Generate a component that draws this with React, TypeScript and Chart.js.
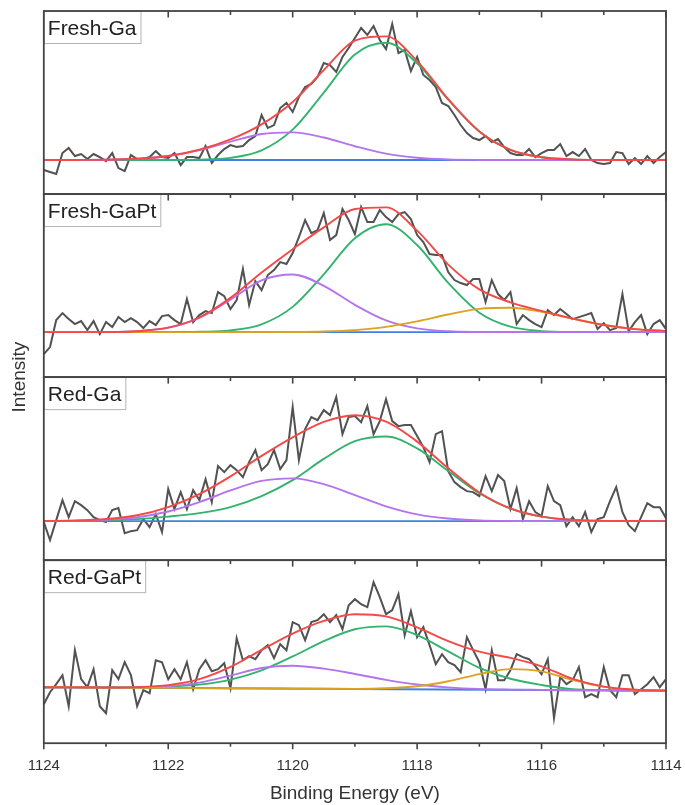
import React, { useEffect, useRef } from 'react';
import { Chart, registerables } from 'chart.js';

Chart.register(...registerables);

const FONT = "'Liberation Sans', Arial, 'DejaVu Sans', sans-serif";

// Binding energy grid of the measured spectra (eV)
const rawEnergy = [
  1124.0, 1123.9, 1123.8, 1123.7, 1123.6, 1123.5, 1123.4, 1123.3, 1123.2, 1123.1,
  1123.0, 1122.9, 1122.8, 1122.7, 1122.6, 1122.5, 1122.4, 1122.3, 1122.2, 1122.1,
  1122.0, 1121.9, 1121.8, 1121.7, 1121.6, 1121.5, 1121.4, 1121.3, 1121.2, 1121.1,
  1121.0, 1120.9, 1120.8, 1120.7, 1120.6, 1120.5, 1120.4, 1120.3, 1120.2, 1120.1,
  1120.0, 1119.9, 1119.8, 1119.7, 1119.6, 1119.5, 1119.4, 1119.3, 1119.2, 1119.1,
  1119.0, 1118.9, 1118.8, 1118.7, 1118.6, 1118.5, 1118.4, 1118.3, 1118.2, 1118.1,
  1118.0, 1117.9, 1117.8, 1117.7, 1117.6, 1117.5, 1117.4, 1117.3, 1117.2, 1117.1,
  1117.0, 1116.9, 1116.8, 1116.7, 1116.6, 1116.5, 1116.4, 1116.3, 1116.2, 1116.1,
  1116.0, 1115.9, 1115.8, 1115.7, 1115.6, 1115.5, 1115.4, 1115.3, 1115.2, 1115.1,
  1115.0, 1114.9, 1114.8, 1114.7, 1114.6, 1114.5, 1114.4, 1114.3, 1114.2, 1114.1,
  1114.0,
];

// Energy grid of the fitted curves (eV)
const fitEnergy = [
  1124, 1123.5, 1123, 1122.5, 1122, 1121.5, 1121, 1120.5, 1120, 1119.5, 1119,
  1118.5, 1118, 1117.5, 1117, 1116.5, 1116, 1115.5, 1115, 1114.5, 1114,
];
const baseEnergy = [1124, 1114];

// ---- Fresh-Ga ----
const rawFreshGa = [
  -10, -12, -14, 7, 12, 4, 6, 1, 6, 3,
  -1, 7, -8, -11, 5, 1, 1, 3, 9, 3,
  2, 7, -5, 3, 3, 2, 14, -3, 5, 11,
  15, 13, 14, 20, 24, 45, 32, 35, 52, 57,
  48, 63, 73, 76, 83, 97, 95, 88, 103, 112,
  122, 132, 125, 134, 120, 111, 136, 107, 110, 89,
  103, 85, 80, 73, 57, 54, 45, 35, 27, 22,
  20, 24, 18, 21, 13, 7, 5, 5, 11, 3,
  7, 10, 10, 16, 4, 8, 4, 11, 0, -3,
  -4, -3, 8, 7, -4, 2, -4, 4, -3, 3,
  8,
];
const envFreshGa = [0, 0.1, 0.3, 1.3, 4.0, 10.3, 20.6, 35.7, 58.1, 89.9, 119.4, 123.6, 98.9, 60.9, 28.6, 10.2, 2.8, 0.6, 0.1, 0, 0];
const greenFreshGa = [0, 0, 0, 0, 0, 0.4, 2.2, 9.7, 30.4, 67.4, 105.6, 117.2, 96.6, 60.3, 28.5, 10.2, 2.8, 0.6, 0.1, 0, 0];
const purpleFreshGa = [0, 0.1, 0.3, 1.3, 4.0, 9.9, 18.4, 26.0, 27.7, 22.5, 13.8, 6.4, 2.3, 0.6, 0.1, 0, 0, 0, 0, 0, 0];
const baseFreshGa = [0, 0];

// ---- Fresh-GaPt ----
const rawFreshGaPt = [
  -22, -15, 12, 19, 13, 8, 11, 2, 11, -2,
  10, 5, 15, 10, 14, 10, 4, 11, 7, 16,
  17, 12, 8, 33, 10, 17, 21, 19, 40, 36,
  23, 32, 63, 27, 51, 42, 57, 62, 70, 68,
  79, 95, 112, 99, 102, 119, 92, 97, 123, 112,
  98, 125, 110, 110, 122, 115, 110, 118, 120, 113,
  97, 90, 78, 77, 77, 60, 52, 49, 47, 53,
  53, 30, 52, 38, 32, 40, 8, 17, 12, 8,
  5, 22, 17, 23, 18, 13, 15, 17, 19, 3,
  9, 2, 4, 38, 1, 10, 17, -2, 8, 12,
  3,
];
const envFreshGaPt = [0, 0, 0.1, 0.9, 4.4, 14.6, 34.2, 59.5, 82.9, 104.7, 123.1, 124.7, 101.4, 67.5, 42.7, 29.7, 21.2, 13.5, 7.1, 3.0, 1.0];
const greenFreshGaPt = [0, 0, 0, 0, 0, 0.3, 1.7, 7.8, 25.2, 57.8, 93.9, 107.8, 87.0, 49.1, 19.4, 5.4, 1.0, 0.1, 0, 0, 0];
const purpleFreshGaPt = [0, 0, 0.1, 0.9, 4.4, 14.3, 32.5, 51.7, 57.6, 46.3, 27.2, 11.7, 3.7, 0.8, 0.1, 0, 0, 0, 0, 0, 0];
const orangeFreshGaPt = [0, 0, 0, 0, 0, 0, 0, 0, 0.1, 0.6, 2.0, 5.2, 10.7, 17.6, 23.2, 24.3, 20.2, 13.4, 7.1, 3.0, 1.0];
const baseFreshGaPt = [0, 0];

// ---- Red-Ga ----
const rawRedGa = [
  -1, -19, 1, 21, 4, 20, 16, 11, 4, 1,
  -1, 11, 13, -12, -10, -9, 2, -6, 7, -11,
  32, 12, 29, 12, 31, 21, 42, 19, 55, 49,
  56, 51, 44, 59, 71, 51, 57, 71, 52, 61,
  114, 61, 92, 104, 101, 111, 106, 124, 87, 104,
  105, 99, 115, 87, 100, 122, 100, 95, 96, 96,
  85, 74, 59, 87, 90, 50, 39, 34, 30, 29,
  25, 45, 30, 46, 40, 12, 33, 2, 20, 9,
  5, 35, 20, 16, -5, 4, -5, 9, -11, 2,
  4, 20, 34, 9, -4, -10, 4, 18, 14, 14,
  3,
];
const envRedGa = [0.2, 0.6, 2.1, 5.9, 14.1, 27.0, 44.7, 65.2, 83.8, 99.2, 105.9, 99.4, 79.5, 52.8, 28.7, 12.7, 4.5, 1.3, 0.3, 0.1, 0];
const greenRedGa = [0.1, 0.3, 0.8, 2.0, 4.5, 8.0, 14.0, 25.0, 41.0, 62.2, 79.9, 84.6, 72.7, 50.2, 27.9, 12.5, 4.5, 1.3, 0.3, 0.1, 0];
const purpleRedGa = [0.1, 0.3, 1.3, 3.9, 9.6, 19.0, 30.7, 40.2, 42.8, 37.0, 26.0, 14.8, 6.8, 2.6, 0.8, 0.2, 0, 0, 0, 0, 0];
const baseRedGa = [0, 0];

// ---- Red-GaPt ----
const rawRedGaPt = [
  -17, -5, 3, 12, -19, 37, 8, 0, 18, -19,
  -26, 17, 8, 25, 12, -19, -3, -6, 27, 25,
  8, 18, 8, 25, -2, 18, 27, 16, 18, 24,
  -1, 49, 27, 31, 28, 37, 42, 29, 43, 37,
  65, 62, 47, 65, 67, 73, 65, 72, 58, 82,
  88, 83, 80, 105, 90, 73, 77, 93, 52, 76,
  50, 60, 42, 23, 33, 25, 22, 15, 50, 37,
  25, -2, 37, 7, 7, 17, 33, 30, 28, 21,
  13, 28, -31, 10, 3, 7, 20, -10, -7, -10,
  20, -3, -10, 12, 12, -7, -2, 3, 10, 0,
  8,
];
const envRedGaPt = [0, -0.2, -0.3, 0.1, 2.1, 8.0, 20.2, 37.3, 53.6, 66.2, 72.9, 70.8, 59.9, 46.1, 35.5, 29.3, 20.9, 8.3, 0.6, -2.5, -3.4];
const greenRedGaPt = [0, -0.2, -0.3, -0.2, 0.5, 2.6, 7.6, 16.9, 30.7, 46.0, 57.9, 60.8, 52.1, 35.8, 19.3, 8.4, 2.2, -1.9, -2.9, -3.2, -3.5];
const purpleRedGaPt = [0, -0.2, -0.4, -0.2, 0.9, 4.5, 11.6, 19.2, 21.5, 18.6, 13.2, 7.3, 2.7, -0.2, -1.8, -2.4, -2.7, -3.0, -3.2, -3.3, -3.5];
const orangeRedGaPt = [0, -0.2, -0.4, -0.5, -0.7, -0.9, -1.1, -1.2, -1.4, -1.6, -1.7, -1.1, 0.9, 5.9, 13.1, 18.1, 15.8, 7.2, 0.3, -2.6, -3.4];
const baseRedGaPt = [0, -3.5];

const panelNames = ['Fresh-Ga', 'Fresh-GaPt', 'Red-Ga', 'Red-GaPt'];
const panelIds = ['y1', 'y2', 'y3', 'y4'];
const yMin = [-34, -45, -39, -56];
const yMax = [149, 138, 144, 127];

const C_RAW = '#525252';
const C_ENV = '#f54848';
const C_GREEN = '#33b36e';
const C_PURPLE = '#b574ec';
const C_ORANGE = '#dba322';
const C_BLUE = '#3f80e0';
const C_FRAME = '#444444';

const toPoints = (xs: number[], ys: number[]) => xs.map((x, i) => ({ x, y: ys[i] }));

const panelDecor = {
  id: 'panelDecor',
  afterDraw(chart: any) {
    const ctx = chart.ctx as CanvasRenderingContext2D;
    const xs = chart.scales.x;
    const { left, right, bottom } = chart.chartArea;
    const tickVals: number[] = xs.ticks.map((t: any) => Math.round(t.value));
    ctx.save();
    ctx.strokeStyle = C_FRAME;
    ctx.lineWidth = 1.6;
    // inward tick marks at the top of each panel
    panelIds.forEach((id) => {
      const ys = chart.scales[id];
      tickVals.forEach((v) => {
        const px = xs.getPixelForValue(v);
        const len = v % 2 === 0 ? 6.5 : 4;
        ctx.beginPath();
        ctx.moveTo(px, ys.top);
        ctx.lineTo(px, ys.top + len);
        ctx.stroke();
      });
    });
    // outward tick marks under the bottom axis
    tickVals.forEach((v) => {
      const px = xs.getPixelForValue(v);
      const len = v % 2 === 0 ? 6 : 3.5;
      ctx.beginPath();
      ctx.moveTo(px, bottom);
      ctx.lineTo(px, bottom + len);
      ctx.stroke();
    });
    // label boxes
    ctx.font = `21px ${FONT}`;
    panelIds.forEach((id, k) => {
      const ys = chart.scales[id];
      const w = ctx.measureText(panelNames[k]).width + 8;
      const h = 32;
      ctx.fillStyle = '#ffffff';
      ctx.fillRect(left, ys.top, w, h);
      ctx.strokeStyle = '#b4b4b4';
      ctx.lineWidth = 1;
      ctx.strokeRect(left + 0.5, ys.top + 0.5, w, h);
      ctx.fillStyle = '#222222';
      ctx.textBaseline = 'alphabetic';
      ctx.textAlign = 'left';
      ctx.fillText(panelNames[k], left + 4, ys.top + 23.5);
    });
    // panel frames
    ctx.strokeStyle = C_FRAME;
    ctx.lineWidth = 1.8;
    panelIds.forEach((id) => {
      const ys = chart.scales[id];
      ctx.strokeRect(left, ys.top, right - left, ys.bottom - ys.top);
    });
    ctx.restore();
  },
};

export default function App() {
  const ref = useRef<HTMLCanvasElement>(null);

  useEffect(() => {
    document.body.style.margin = '0';
    const canvas = ref.current;
    if (!canvas) return;

    const panels = [
      { raw: rawFreshGa, env: envFreshGa, green: greenFreshGa, purple: purpleFreshGa, orange: null, base: baseFreshGa },
      { raw: rawFreshGaPt, env: envFreshGaPt, green: greenFreshGaPt, purple: purpleFreshGaPt, orange: orangeFreshGaPt, base: baseFreshGaPt },
      { raw: rawRedGa, env: envRedGa, green: greenRedGa, purple: purpleRedGa, orange: null, base: baseRedGa },
      { raw: rawRedGaPt, env: envRedGaPt, green: greenRedGaPt, purple: purpleRedGaPt, orange: orangeRedGaPt, base: baseRedGaPt },
    ];

    const datasets: any[] = [];
    panels.forEach((p, k) => {
      const yAxisID = panelIds[k];
      const line = (label: string, xs: number[], ys: number[], color: string, width: number, smooth: boolean) => ({
        label: `${panelNames[k]} ${label}`,
        data: toPoints(xs, ys),
        xAxisID: 'x',
        yAxisID,
        borderColor: color,
        backgroundColor: color,
        borderWidth: width,
        pointRadius: 0,
        fill: false,
        tension: 0,
        cubicInterpolationMode: smooth ? 'monotone' : 'default',
      });
      datasets.push(line('envelope', fitEnergy, p.env, C_ENV, 1.9, true));
      if (p.orange) datasets.push(line('peak 3', fitEnergy, p.orange, C_ORANGE, 1.9, true));
      datasets.push(line('peak 2', fitEnergy, p.purple, C_PURPLE, 1.9, true));
      datasets.push(line('peak 1', fitEnergy, p.green, C_GREEN, 1.9, true));
      datasets.push(line('background', baseEnergy, p.base, C_BLUE, 1.9, false));
      datasets.push(line('raw', rawEnergy, p.raw, C_RAW, 2, false));
    });

    const scales: any = {
      x: {
        type: 'linear',
        position: 'bottom',
        min: 1114,
        max: 1124,
        reverse: true,
        ticks: {
          stepSize: 1,
          autoSkip: false,
          maxRotation: 0,
          padding: 0,
          color: '#333333',
          font: { family: FONT, size: 15 },
          callback: (v: any) => {
            const n = Math.round(Number(v));
            return n % 2 === 0 ? String(n) : '';
          },
        },
        grid: {
          display: true,
          drawOnChartArea: false,
          drawTicks: true,
          tickLength: 14,
          tickColor: 'rgba(0,0,0,0)',
        },
        border: { display: false },
        title: {
          display: true,
          text: 'Binding Energy (eV)',
          color: '#333333',
          font: { family: FONT, size: 19 },
          padding: { top: 7, bottom: 0 },
        },
      },
      yTitle: {
        type: 'linear',
        position: 'left',
        weight: 10,
        min: 0,
        max: 1,
        display: true,
        ticks: { display: false },
        grid: { display: false, drawTicks: false, tickLength: 0 },
        border: { display: false },
        title: {
          display: true,
          text: 'Intensity',
          color: '#333333',
          font: { family: FONT, size: 19 },
          padding: { top: 0, bottom: 13 },
        },
      },
    };
    panelIds.forEach((id, k) => {
      scales[id] = {
        type: 'linear',
        position: 'left',
        stack: 'panels',
        stackWeight: 1,
        weight: 4 - k,
        min: yMin[k],
        max: yMax[k],
        display: true,
        ticks: { display: false },
        grid: { display: false, drawTicks: false, tickLength: 0 },
        border: { display: false },
      };
    });

    const chart = new Chart(canvas, {
      type: 'line',
      data: { datasets },
      options: {
        responsive: false,
        maintainAspectRatio: false,
        animation: false,
        devicePixelRatio: 1,
        events: [],
        layout: { padding: { top: 11, right: 19, bottom: 0, left: 8 } },
        plugins: { legend: { display: false }, tooltip: { enabled: false } },
        scales,
      } as any,
      plugins: [panelDecor],
    });

    return () => chart.destroy();
  }, []);

  return <canvas ref={ref} width={685} height={805} style={{ display: 'block', width: 685, height: 805 }} />;
}
